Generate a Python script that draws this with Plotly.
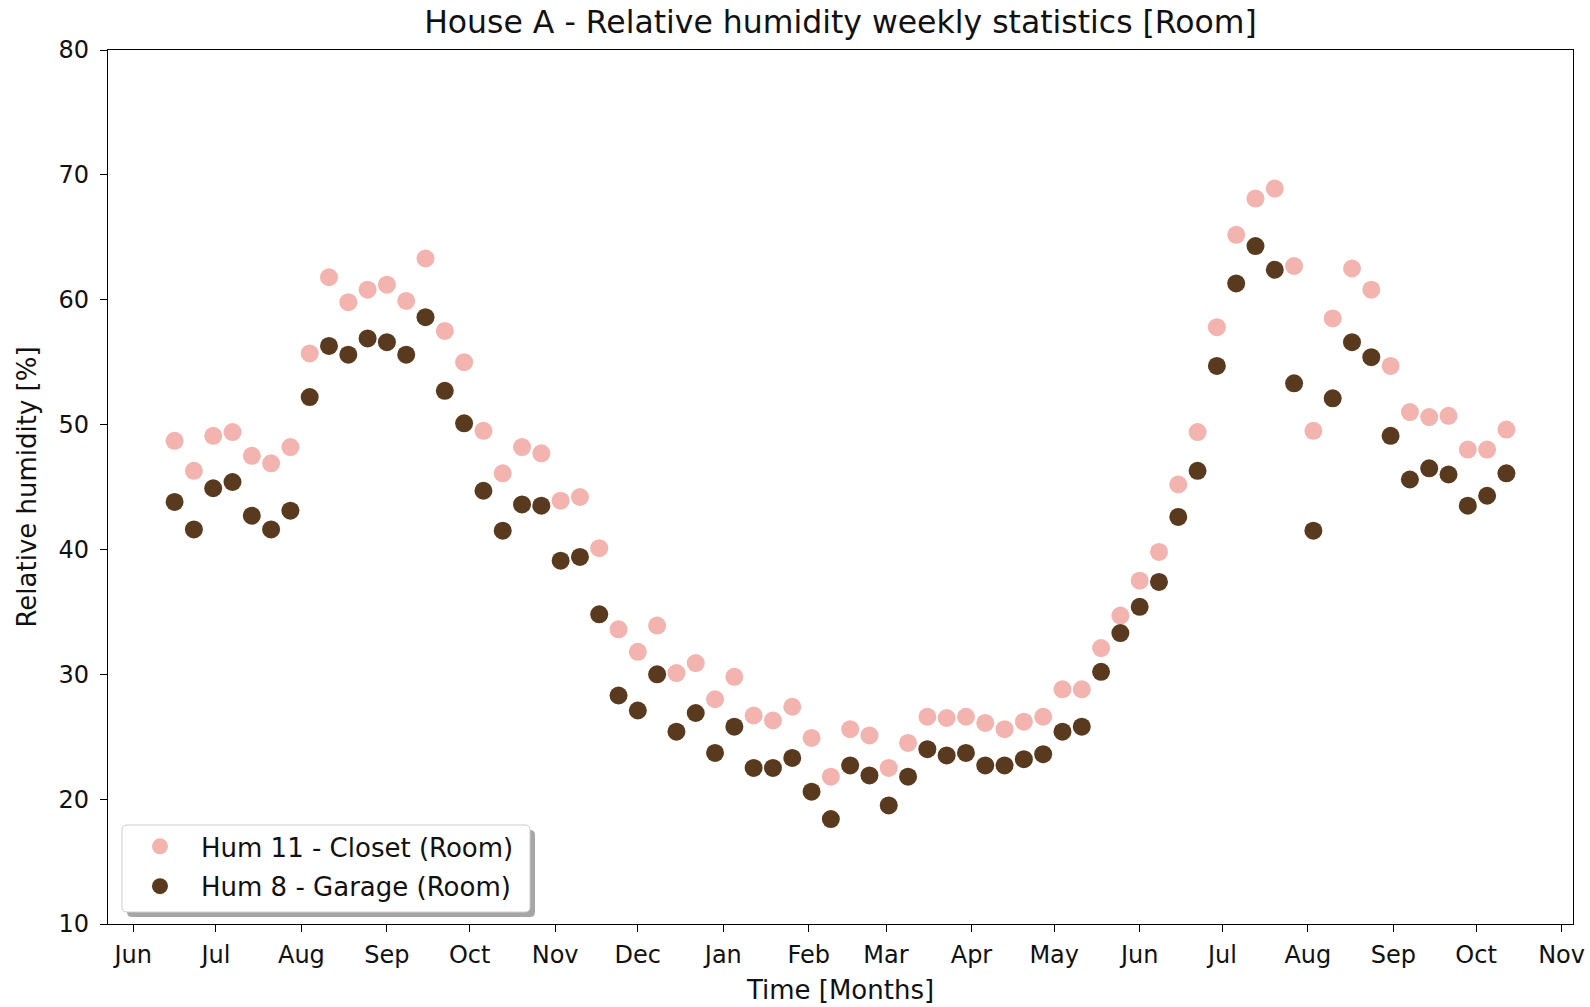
import pandas as pd
import plotly.graph_objects as go

# ---- data ----
week_start = "2018-06-16"
n_weeks = 70
dates = pd.date_range(week_start, periods=n_weeks, freq="7D")

hum11_closet = [
    48.7, 46.3, 49.1, 49.4, 47.5, 46.9, 48.2, 55.7, 61.8, 59.8,
    60.8, 61.2, 59.9, 63.3, 57.5, 55.0, 49.5, 46.1, 48.2, 47.7,
    43.9, 44.2, 40.1, 33.6, 31.8, 33.9, 30.1, 30.9, 28.0, 29.8,
    26.7, 26.3, 27.4, 24.9, 21.8, 25.6, 25.1, 22.5, 24.5, 26.6,
    26.5, 26.6, 26.1, 25.6, 26.2, 26.6, 28.8, 28.8, 32.1, 34.7,
    37.5, 39.8, 45.2, 49.4, 57.8, 65.2, 68.1, 68.9, 62.7, 49.5,
    58.5, 62.5, 60.8, 54.7, 51.0, 50.6, 50.7, 48.0, 48.0, 49.6,
]
hum8_garage = [
    43.8, 41.6, 44.9, 45.4, 42.7, 41.6, 43.1, 52.2, 56.3, 55.6,
    56.9, 56.6, 55.6, 58.6, 52.7, 50.1, 44.7, 41.5, 43.6, 43.5,
    39.1, 39.4, 34.8, 28.3, 27.1, 30.0, 25.4, 26.9, 23.7, 25.8,
    22.5, 22.5, 23.3, 20.6, 18.4, 22.7, 21.9, 19.5, 21.8, 24.0,
    23.5, 23.7, 22.7, 22.7, 23.2, 23.6, 25.4, 25.8, 30.2, 33.3,
    35.4, 37.4, 42.6, 46.3, 54.7, 61.3, 64.3, 62.4, 53.3, 41.5,
    52.1, 56.6, 55.4, 49.1, 45.6, 46.5, 46.0, 43.5, 44.3, 46.1,
]
series_names = ["Hum 11 - Closet (Room)", "Hum 8 - Garage (Room)"]
series_colors = ["#F3B3AF", "#5A3A1E"]
month_ticks = pd.date_range("2018-06-01", "2019-11-01", freq="MS")
y_ticks = [10, 20, 30, 40, 50, 60, 70, 80]

FONT = "DejaVu Sans"

# x range with 5% margins like matplotlib
span = dates[-1] - dates[0]
x_range = [dates[0] - span * 0.05, dates[-1] + span * 0.05]

fig = go.Figure()
for name, vals, col, grp in zip(series_names, [hum11_closet, hum8_garage], series_colors, ["a", "b"]):
    fig.add_trace(go.Scatter(
        x=dates, y=vals, mode="markers", name=name, legendgroup=grp,
        marker=dict(size=18, color=col, line=dict(width=0)),
    ))

axis_common = dict(
    showline=True, linecolor="black", linewidth=1.3, mirror=True,
    ticks="outside", ticklen=7, tickwidth=1.3, tickcolor="black",
    showgrid=False, zeroline=False, automargin=False,
    tickfont=dict(family=FONT, size=24, color="#111"),
)

fig.update_layout(
    width=1590, height=1007,
    margin=dict(l=108, r=17, t=50, b=83),
    paper_bgcolor="white", plot_bgcolor="white",
    font=dict(family=FONT, color="#111"),
    title=dict(text="House A - Relative humidity weekly statistics [Room]",
               x=0.5, xanchor="center", xref="paper",
               y=1 - 22 / 1007, yanchor="middle", yref="container",
               font=dict(family=FONT, size=31.5, color="#111")),
    xaxis=dict(**axis_common, range=x_range, tickvals=month_ticks, tickformat="%b",
               title=dict(text="Time [Months]", font=dict(family=FONT, size=26), standoff=12),
               ticklabelstandoff=2),
    yaxis=dict(**axis_common, range=[10, 80], tickvals=y_ticks,
               title=dict(text="Relative humidity [%]", font=dict(family=FONT, size=26), standoff=14),
               ticklabelstandoff=6),
    legend=dict(x=0.0075, y=0.1156, xanchor="left", yanchor="top",
                bgcolor="rgba(0,0,0,0)", borderwidth=0,
                font=dict(family=FONT, size=26, color="#111"),
                itemwidth=72, traceorder="grouped", tracegroupgap=3),
    showlegend=True,
)


def rrect(x0, y0, x1, y1, r):
    return (f"M {x0+r},{y0} L {x1-r},{y0} Q {x1},{y0} {x1},{y0+r} "
            f"L {x1},{y1-r} Q {x1},{y1} {x1-r},{y1} L {x0+r},{y1} "
            f"Q {x0},{y1} {x0},{y1-r} L {x0},{y0+r} Q {x0},{y0} {x0+r},{y0} Z")

# legend shadow and frame (pixel offsets from plot bottom-left corner)
fig.add_shape(type="path", xref="paper", yref="paper", xsizemode="pixel", ysizemode="pixel",
              xanchor=0, yanchor=0, path=rrect(19, 7, 427, 94, 5),
              fillcolor="rgba(0,0,0,0.35)", line=dict(width=0), layer="above")
fig.add_shape(type="path", xref="paper", yref="paper", xsizemode="pixel", ysizemode="pixel",
              xanchor=0, yanchor=0, path=rrect(14, 12, 422, 99, 5),
              fillcolor="white", line=dict(width=1, color="#cccccc"), layer="above")

fig.write_html("out.html")
